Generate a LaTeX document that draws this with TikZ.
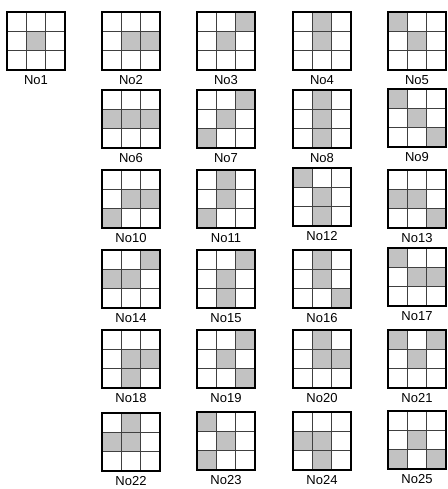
\documentclass[tikz,border=0pt]{standalone}
\usepackage{fontspec}
\setmainfont{Liberation Sans}
\usetikzlibrary{positioning}

% cell size of one tile (in pt)
\def\cs{19.33}

\tikzset{
  tileframe/.style={line width=1.3pt, black},
  gridline/.style={line width=0.8pt, black!75},
  dotcell/.style={fill=black!24},
  tilelabel/.style={font=\fontsize{13}{15}\selectfont, inner sep=0pt}
}

% #1 x, #2 y (top left), #3 number, #4 shaded cells row/col
\newcommand{\drawtile}[4]{%
  \begin{scope}[shift={(#1,#2)}]
    \foreach \r/\c in {#4}
      \fill[dotcell] ({(\c-1)*\cs+0.8},{(\r-1)*\cs+0.8}) rectangle ++(\cs-1.6,\cs-1.6);
    \draw[gridline] (\cs,0) -- (\cs,3*\cs) (2*\cs,0) -- (2*\cs,3*\cs)
      (0,\cs) -- (3*\cs,\cs) (0,2*\cs) -- (3*\cs,2*\cs);
    \draw[tileframe] (0,0) rectangle (3*\cs,3*\cs);
    \node[tilelabel] (no#3) at (1.5*\cs,3*\cs+10.5) {No#3};
  \end{scope}}

\begin{document}
\begin{tikzpicture}[x=1pt, y=-1pt]
\useasboundingbox (0,0) rectangle (447,489);

% --- Row 1 ---
\drawtile{7}{12}{1}{2/2}
\drawtile{102}{12}{2}{2/2,2/3}
\drawtile{197}{12}{3}{1/3,2/2}
\drawtile{293}{12}{4}{1/2,2/2}
\drawtile{388}{12}{5}{1/1,2/2}

% --- Row 2 ---
\drawtile{102}{90}{6}{2/1,2/2,2/3}
\drawtile{197}{90}{7}{1/3,2/2,3/1}
\drawtile{293}{90}{8}{1/2,2/2,3/2}
\drawtile{388}{89}{9}{1/1,2/2,3/3}

% --- Row 3 ---
\drawtile{102}{170}{10}{2/2,2/3,3/1}
\drawtile{197}{170}{11}{1/2,2/2,3/1}
\drawtile{293}{168}{12}{1/1,2/2,3/2}
\drawtile{388}{170}{13}{2/1,2/2,3/3}

% --- Row 4 ---
\drawtile{102}{250}{14}{1/3,2/1,2/2}
\drawtile{197}{250}{15}{1/3,2/2,3/2}
\drawtile{293}{250}{16}{1/2,2/2,3/3}
\drawtile{388}{248}{17}{1/1,2/2,2/3}

% --- Row 5 ---
\drawtile{102}{330}{18}{2/2,2/3,3/2}
\drawtile{197}{330}{19}{1/3,2/2,3/3}
\drawtile{293}{330}{20}{1/2,2/2,2/3}
\drawtile{388}{330}{21}{1/1,1/3,2/2}

% --- Row 6 ---
\drawtile{102}{413}{22}{1/2,2/1,2/2}
\drawtile{197}{412}{23}{1/1,2/2,3/1}
\drawtile{293}{412}{24}{2/1,2/2,3/2}
\drawtile{388}{411}{25}{2/2,3/1,3/3}

\end{tikzpicture}
\end{document}
